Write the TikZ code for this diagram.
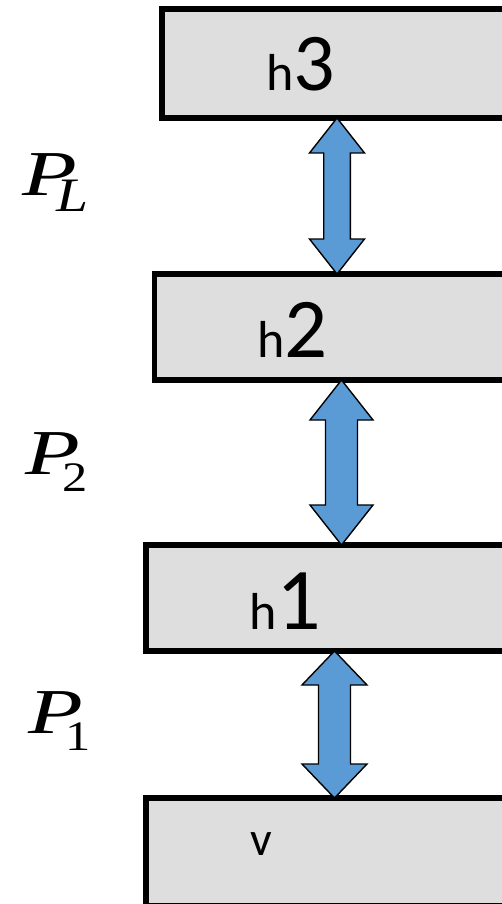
\documentclass[tikz,border=0pt]{standalone}
\usepackage{fontspec}
\setmainfont{Carlito}
\newfontfamily\lblfont{Liberation Serif}
\usetikzlibrary{calc}
\definecolor{boxgray}{HTML}{DEDEDE}
\definecolor{arrblue}{HTML}{5B9BD5}
\tikzset{
  layer/.style={draw=black, fill=boxgray, line width=5.5pt, rectangle, inner sep=0pt, outer sep=0pt},
  arr/.style={draw=black, fill=arrblue, line width=1.4pt, line join=miter},
  lbl/.style={anchor=base west, inner sep=0pt, outer sep=0pt},
  plbl/.style={anchor=base west, inner sep=0pt, outer sep=0pt, font=\lblfont},
}
% #1 top node anchor, #2 bottom node anchor, #3 head half width, #4 shaft half width, #5 head length
\newcommand\dblarrow[5]{%
  \draw[arr] let \p1=(#1), \p2=(#2) in
    (\x1,\y1) -- ++(#3pt,-#5pt) -- (\x1+#4pt,\y1-#5pt) -- (\x1+#4pt,\y2+#5pt)
    -- (\x1+#3pt,\y2+#5pt) -- (\x1,\y2) -- (\x1-#3pt,\y2+#5pt) -- (\x1-#4pt,\y2+#5pt)
    -- (\x1-#4pt,\y1-#5pt) -- (\x1-#3pt,\y1-#5pt) -- cycle;}
\begin{document}
\begin{tikzpicture}[x=1pt,y=-1pt]
\useasboundingbox (0,0) rectangle (502,904);
\fill[white] (0,0) rectangle (502,904);
% layers
\node[layer, minimum width=350pt, minimum height=109pt] (h3) at (337,63.5) {};
\node[layer, minimum width=374pt, minimum height=106pt] (h2) at (341.5,327) {};
\node[layer, minimum width=377pt, minimum height=106pt] (h1) at (334.5,598) {};
\node[layer, minimum width=377pt, minimum height=108pt] (v)  at (334.5,852) {};
% layer texts
\node[lbl] (t3) at (266,91) {{\fontsize{52}{60}\selectfont h}{\fontsize{82}{90}\selectfont 3}};
\node[lbl] (t2) at (257,357) {{\fontsize{52}{60}\selectfont h}{\fontsize{85}{90}\selectfont 2}};
\node[lbl] (t1) at (249,629) {{\fontsize{52}{60}\selectfont h}{\fontsize{88}{90}\selectfont 1}};
\node[lbl] (tv) at (250,855) {{\fontsize{48}{60}\selectfont v}};
% arrows
\dblarrow{h3.south}{h2.north}{27.5}{13.3}{35}
\dblarrow{h2.south}{h1.north}{31.5}{16}{40}
\dblarrow{h1.south}{v.north}{32.5}{16}{34}
% P labels
\node[plbl] (pL) at (22,195) {\scalebox{1.4}[1]{\fontsize{64}{70}\selectfont\itshape P}\kern-20pt\raisebox{-17pt}{\scalebox{1.2}[1]{\fontsize{48}{50}\selectfont\itshape L}}};
\node[plbl] (p2) at (25,474) {\scalebox{1.4}[1]{\fontsize{64}{70}\selectfont\itshape P}\kern-17pt\raisebox{-17pt}{\scalebox{1.2}[1]{\fontsize{42}{50}\selectfont 2}}};
\node[plbl] (p1) at (28,733) {\scalebox{1.4}[1]{\fontsize{64}{70}\selectfont\itshape P}\kern-17pt\raisebox{-17pt}{\scalebox{1.2}[1]{\fontsize{42}{50}\selectfont 1}}};
\end{tikzpicture}
\end{document}
